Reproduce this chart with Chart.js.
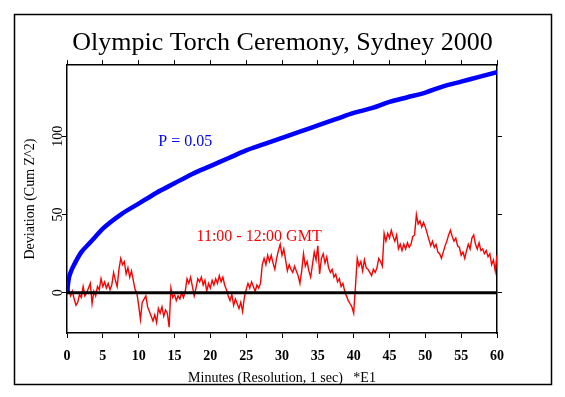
<!DOCTYPE html>
<html>
<head>
<meta charset="utf-8">
<script src="https://cdn.jsdelivr.net/npm/chart.js@4/dist/chart.umd.min.js"></script>
<style>
    html, body { margin: 0; padding: 0; background: #ffffff; }
    #wrap { width: 565px; height: 397px; }
</style>
</head>
<body>
<div id="wrap"><canvas id="torch-chart" width="565" height="397"></canvas></div>
<script>
// Olympic Torch Ceremony - cumulative deviation chart

const chartTitle = 'Olympic Torch Ceremony, Sydney 2000';
const xAxisTitle = 'Minutes (Resolution, 1 sec)   *E1';
const yAxisTitle = 'Deviation (Cum Z^2)';
const xTicks = [0, 5, 10, 15, 20, 25, 30, 35, 40, 45, 50, 55, 60];
const yTicks = [0, 50, 100];

// P = 0.05 envelope
const blueMinutes = [0, 0.25, 0.5, 1, 2, 3, 4, 5, 7.5, 10, 12.5, 15, 17.5, 20, 22.5, 25,
    27.5, 30, 32.5, 35, 37.5, 40, 42.5, 45, 47.5, 50, 52.5, 55, 57.5, 60];
const blueValues = [0, 9, 13, 18, 26, 31, 36, 41, 50, 57, 64, 70, 76, 81, 86, 91,
    95, 99, 103, 107, 111, 115, 118, 122, 125, 128, 132, 135, 138, 141];

// 11:00 - 12:00 GMT cumulative deviation, one value every 15 seconds
const redStep = 0.25;
const redValues = [
    0, 3, -2, 1, -4, -8, -6, -1, -3, 4, -2, 0, 3, 6, -7, 1, -2, 4, 2, 9,
    4, 7, 3, 6, 2, 5, 13, 8, 4, 15, 22, 18, 20, 12, 16, 10, 14, 8, 2, 0,
    -8, -17, -6, -4, -2, -9, -12, -15, -18, -14, -19, -10, -13, -9, -15, -11, -13, -22, 3, -3,
    -1, -5, -2, -4, 0, -3, 1, 9, 6, 10, 4, -2, 3, 9, 7, 10, 5, 8, 1, 6,
    3, 8, 5, 9, 6, 11, 7, 10, 5, 2, -2, -5, -1, -8, -4, -7, -10, -6, -12, -3,
    2, 6, 3, 7, 4, 1, 5, 3, 6, 18, 22, 18, 24, 20, 24, 19, 15, 22, 27, 31,
    24, 28, 21, 14, 18, 15, 13, 17, 14, 11, 6, 14, 25, 17, 20, 14, 10, 18, 26, 21,
    30, 12, 22, 25, 19, 23, 16, 13, 15, 10, 12, 7, 9, 4, 6, 1, -2, -5, -7, -9,
    -13, 4, 22, 17, 20, 14, 21, 16, 15, 13, 11, 15, 13, 16, 22, 20, 17, 38, 33, 38,
    35, 40, 36, 33, 37, 28, 31, 27, 31, 28, 32, 29, 31, 36, 37, 50, 44, 46, 42, 45,
    42, 38, 34, 30, 33, 29, 31, 26, 25, 22, 26, 30, 33, 37, 40, 36, 33, 35, 30, 29,
    24, 26, 22, 27, 31, 28, 35, 37, 31, 28, 32, 27, 28, 25, 27, 23, 25, 18, 21, 14,
    24
];

// Labels placed in data coordinates
const labelNotes = [
    { text: 'P = 0.05', x: 16.5, y: 96.5, color: '#0000ff' },
    { text: '11:00 - 12:00 GMT', x: 26.8, y: 36, color: '#ff0000' }
];

const serif = "'Liberation Serif', 'Times New Roman', serif";

const bluePoints = blueMinutes.map((t, i) => ({ x: t, y: blueValues[i] }));
const redPoints = redValues.map((v, i) => ({ x: i * redStep, y: v }));
const zeroLine = [{ x: 0, y: 0 }, { x: 60, y: 0 }];

// Outer frame + text labels
const framePlugin = {
    id: 'frame',
    afterDatasetsDraw(chart) {
        const ctx = chart.ctx;
        const xs = chart.scales.x;
        const ys = chart.scales.y;
        ctx.save();
        ctx.font = '16px ' + serif;
        ctx.textAlign = 'center';
        ctx.textBaseline = 'middle';
        labelNotes.forEach(n => {
            ctx.fillStyle = n.color;
            ctx.fillText(n.text, xs.getPixelForValue(n.x), ys.getPixelForValue(n.y));
        });
        ctx.restore();
    },
    afterDraw(chart) {
        const ctx = chart.ctx;
        ctx.save();
        ctx.strokeStyle = '#000000';
        ctx.lineWidth = 1.5;
        ctx.strokeRect(14.5, 14.5, 537, 370);
        ctx.restore();
    }
};

const axisGrid = {
    drawOnChartArea: false,
    drawTicks: true,
    tickLength: 5,
    color: '#000000',
    tickColor: '#000000',
    lineWidth: 1
};
const axisBorder = { display: true, color: '#000000', width: 1.5 };

new Chart(document.getElementById('torch-chart'), {
    type: 'line',
    data: {
        datasets: [
            {
                label: 'zero',
                data: zeroLine,
                borderColor: '#000000',
                borderWidth: 3,
                pointRadius: 0
            },
            {
                label: 'P = 0.05',
                data: bluePoints,
                borderColor: '#0000ff',
                borderWidth: 4.5,
                pointRadius: 0,
                cubicInterpolationMode: 'monotone'
            },
            {
                label: '11:00 - 12:00 GMT',
                data: redPoints,
                borderColor: '#ff0000',
                borderWidth: 1.4,
                pointRadius: 0,
                tension: 0
            }
        ]
    },
    options: {
        responsive: false,
        animation: false,
        layout: { padding: 0 },
        plugins: {
            legend: { display: false },
            tooltip: { enabled: false },
            title: {
                display: true,
                text: chartTitle,
                color: '#000000',
                font: { family: serif, size: 26, weight: 'normal' },
                padding: { top: 28, bottom: 0 }
            }
        },
        scales: {
            x: {
                type: 'linear',
                position: 'bottom',
                min: 0,
                max: 60,
                afterBuildTicks: s => { s.ticks = xTicks.map(v => ({ value: v })); },
                afterFit: s => { s.height = 64; },
                grid: axisGrid,
                border: axisBorder,
                ticks: {
                    color: '#000000',
                    padding: 10,
                    maxRotation: 0,
                    font: { family: serif, size: 14, weight: 'bold' }
                },
                title: {
                    display: true,
                    text: xAxisTitle,
                    color: '#000000',
                    font: { family: serif, size: 14 },
                    padding: { top: 0, bottom: 10 }
                }
            },
            x2: {
                type: 'linear',
                position: 'top',
                min: 0,
                max: 60,
                afterBuildTicks: s => { s.ticks = xTicks.map(v => ({ value: v })); },
                afterFit: s => { s.height = 6; },
                grid: axisGrid,
                border: axisBorder,
                ticks: { display: false }
            },
            y: {
                type: 'linear',
                position: 'left',
                min: -25.7,
                max: 145.5,
                afterBuildTicks: s => { s.ticks = yTicks.map(v => ({ value: v })); },
                afterFit: s => { s.width = 67; },
                grid: axisGrid,
                border: axisBorder,
                ticks: {
                    color: '#000000',
                    padding: -7,
                    minRotation: 90,
                    maxRotation: 90,
                    crossAlign: 'center',
                    font: { family: serif, size: 14 }
                },
                title: {
                    display: true,
                    text: yAxisTitle,
                    color: '#000000',
                    font: { family: serif, size: 14 },
                    padding: { top: 22, bottom: 0 }
                }
            },
            y2: {
                type: 'linear',
                position: 'right',
                min: -25.7,
                max: 145.5,
                afterBuildTicks: s => { s.ticks = yTicks.map(v => ({ value: v })); },
                afterFit: s => { s.width = 68; },
                grid: axisGrid,
                border: axisBorder,
                ticks: { display: false }
            }
        }
    },
    plugins: [framePlugin]
});
</script>
</body>
</html>
